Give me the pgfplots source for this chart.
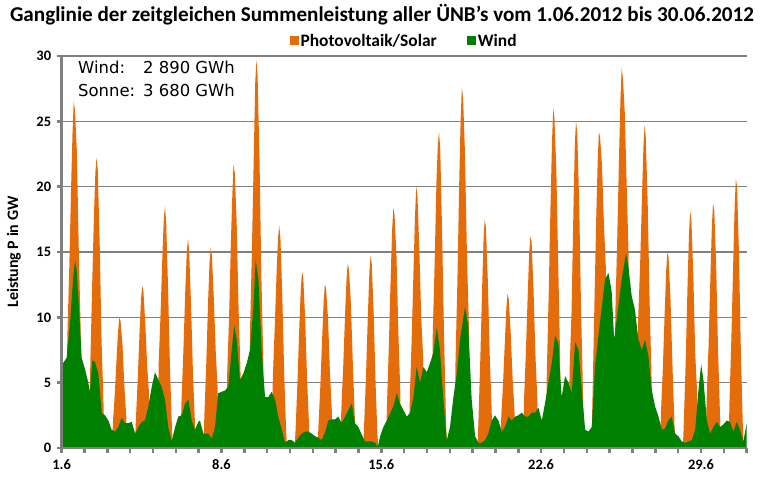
\documentclass[border=0pt]{standalone}
\usepackage{fontspec}
\setmainfont{Carlito}
\newfontfamily\dejavu{DejaVu Sans}
\usepackage{pgfplots}
\usepackage{pgfplotstable}
\pgfplotsset{compat=1.18}
\definecolor{pvorange}{RGB}{228,108,10}
\definecolor{windgreen}{RGB}{0,128,0}
\definecolor{axgray}{RGB}{128,128,128}

% Wind (GW), x = days since 1.06.2012 00:00
\pgfplotstableread[row sep=\\]{
d w\\
0.00 5.8\\ 0.07 6.5\\ 0.22 6.9\\ 0.37 9.6\\ 0.51 13.1\\ 0.59 14.3\\ 0.66 13.6\\ 0.76 10.8\\ 0.88 6.9\\
1.03 6.0\\ 1.17 5.0\\ 1.24 4.3\\ 1.35 6.7\\ 1.46 6.6\\ 1.61 5.7\\ 1.76 2.7\\ 1.90 2.5\\
2.05 2.1\\ 2.19 1.4\\ 2.34 1.25\\ 2.48 1.6\\ 2.63 2.3\\ 2.78 1.9\\ 2.92 1.9\\
3.07 2.0\\ 3.22 1.1\\ 3.36 1.6\\ 3.51 2.0\\ 3.65 2.1\\ 3.80 3.2\\ 3.95 4.7\\
4.09 5.8\\ 4.24 5.2\\ 4.38 4.7\\ 4.53 3.7\\ 4.67 1.6\\ 4.82 0.5\\ 4.97 1.6\\
5.11 2.4\\ 5.26 2.5\\ 5.41 3.4\\ 5.55 3.7\\ 5.70 2.1\\ 5.84 1.4\\ 5.99 2.0\\
6.06 2.1\\ 6.21 1.1\\ 6.43 1.1\\ 6.57 0.7\\ 6.72 1.6\\ 6.86 4.2\\
7.01 4.3\\ 7.16 4.4\\ 7.30 4.7\\ 7.45 7.5\\ 7.56 9.4\\ 7.67 8.3\\ 7.81 5.2\\ 7.96 5.7\\
8.11 6.5\\ 8.25 7.5\\ 8.40 10.8\\ 8.50 14.4\\ 8.62 12.9\\ 8.76 7.5\\ 8.91 3.9\\
9.05 3.9\\ 9.20 4.3\\ 9.35 3.7\\ 9.49 2.4\\ 9.64 1.4\\ 9.79 0.4\\ 9.93 0.6\\
10.08 0.6\\ 10.22 0.4\\ 10.37 0.8\\ 10.52 1.1\\ 10.66 1.25\\ 10.81 1.25\\ 10.95 1.1\\
11.10 0.9\\ 11.24 0.8\\ 11.39 0.6\\ 11.54 1.2\\ 11.68 2.1\\ 11.83 2.2\\ 11.98 2.2\\
12.12 2.4\\ 12.27 1.9\\ 12.41 2.4\\ 12.56 2.9\\ 12.71 3.4\\ 12.85 1.9\\
13.00 1.6\\ 13.15 1.0\\ 13.29 0.5\\ 13.43 0.5\\ 13.58 0.5\\ 13.73 0.4\\ 13.85 0.1\\ 13.95 0.9\\
14.09 1.6\\ 14.24 2.1\\ 14.38 2.6\\ 14.53 3.2\\ 14.68 4.2\\ 14.82 3.4\\ 14.97 2.9\\
15.12 2.4\\ 15.26 2.7\\ 15.41 3.9\\ 15.55 6.2\\ 15.70 5.0\\ 15.85 6.2\\ 15.99 5.8\\
16.14 6.5\\ 16.28 7.3\\ 16.43 9.2\\ 16.57 7.5\\ 16.72 3.7\\ 16.87 0.6\\
17.01 1.6\\ 17.16 3.9\\ 17.31 5.7\\ 17.45 8.3\\ 17.67 10.8\\ 17.81 9.3\\ 17.96 3.7\\
18.11 0.9\\ 18.25 0.4\\ 18.40 0.4\\ 18.55 0.6\\ 18.69 1.1\\ 18.84 2.1\\ 18.98 2.5\\
19.13 2.1\\ 19.28 1.25\\ 19.42 1.6\\ 19.57 2.4\\ 19.71 2.1\\ 19.86 2.4\\
20.00 2.5\\ 20.15 2.7\\ 20.30 2.4\\ 20.44 2.4\\ 20.59 2.7\\ 20.74 2.7\\ 20.88 3.1\\
21.03 2.1\\ 21.17 3.4\\ 21.32 5.0\\ 21.47 6.5\\ 21.61 8.6\\ 21.76 8.0\\ 21.83 5.7\\ 21.90 3.9\\
22.05 5.5\\ 22.20 5.0\\ 22.34 4.2\\ 22.49 8.1\\ 22.64 7.5\\ 22.78 4.4\\ 22.93 1.4\\
23.07 1.25\\ 23.22 1.6\\ 23.36 6.2\\ 23.51 8.6\\ 23.66 10.8\\ 23.80 12.9\\ 23.95 13.4\\
24.09 12.0\\ 24.20 8.3\\ 24.38 10.8\\ 24.53 12.9\\ 24.72 14.9\\ 24.82 13.9\\ 24.97 11.6\\
25.11 10.6\\ 25.26 8.3\\ 25.41 7.5\\ 25.55 8.3\\ 25.70 7.0\\ 25.85 4.4\\ 25.99 3.2\\
26.14 2.4\\ 26.29 1.4\\ 26.43 1.5\\ 26.57 2.1\\ 26.72 2.4\\ 26.87 1.1\\
27.01 0.9\\ 27.16 0.5\\ 27.31 0.4\\ 27.45 0.5\\ 27.60 0.6\\ 27.75 1.4\\ 27.89 4.4\\
28.01 6.4\\ 28.11 5.2\\ 28.26 2.1\\ 28.40 1.1\\ 28.55 1.6\\ 28.69 2.0\\ 28.84 1.6\\ 28.98 1.8\\
29.13 2.1\\ 29.27 2.0\\ 29.42 1.25\\ 29.57 2.0\\ 29.71 1.4\\ 29.86 0.5\\ 30.00 1.9\\
}\windtab

% Summenleistung Wind + Photovoltaik (GW) during each day's solar hours
\pgfplotstableread[row sep=\\]{
d t\\
0.208 0\\ 0.25 8.45\\ 0.333 13.6\\ 0.417 20.0\\ 0.479 24.2\\ 0.531 26.5\\ 0.583 25.9\\ 0.667 22.8\\ 0.75 15.4\\ 0.833 9.2\\ 0.875 0\\
1.208 0\\ 1.25 5.8\\ 1.333 12.1\\ 1.417 17.8\\ 1.479 21.1\\ 1.531 22.2\\ 1.583 21.3\\ 1.667 15.8\\ 1.75 8.2\\ 1.833 3.6\\ 1.875 0\\
2.208 0\\ 2.25 2.0\\ 2.333 4.2\\ 2.417 7.2\\ 2.479 9.0\\ 2.531 10.0\\ 2.583 9.7\\ 2.667 7.9\\ 2.75 4.7\\ 2.833 2.4\\ 2.875 0\\
3.208 0\\ 3.25 2.0\\ 3.333 5.2\\ 3.417 9.0\\ 3.479 11.4\\ 3.531 12.4\\ 3.583 12.0\\ 3.667 9.5\\ 3.75 6.2\\ 3.833 4.1\\ 3.875 0\\
4.208 0\\ 4.25 6.4\\ 4.333 10.2\\ 4.417 14.9\\ 4.479 17.6\\ 4.531 18.5\\ 4.583 17.1\\ 4.667 12.0\\ 4.75 5.9\\ 4.833 1.5\\ 4.875 0\\
5.208 0\\ 5.25 3.5\\ 5.333 7.4\\ 5.417 12.05\\ 5.479 14.8\\ 5.531 16.0\\ 5.583 15.2\\ 5.667 11.1\\ 5.75 5.9\\ 5.833 2.2\\ 5.875 0\\
6.208 0\\ 6.25 2.3\\ 6.333 6.3\\ 6.417 11.25\\ 6.479 14.2\\ 6.531 15.3\\ 6.583 14.7\\ 6.667 11.45\\ 6.75 7.4\\ 6.833 4.6\\ 6.875 0\\
7.208 0\\ 7.25 5.6\\ 7.333 9.9\\ 7.417 15.9\\ 7.479 19.45\\ 7.531 21.7\\ 7.583 21.1\\ 7.667 17.3\\ 7.75 10.7\\ 7.833 6.1\\ 7.875 0\\
8.208 0\\ 8.25 8.8\\ 8.333 14.95\\ 8.417 22.4\\ 8.479 27.9\\ 8.531 29.7\\ 8.583 28.5\\ 8.667 22.2\\ 8.75 13.1\\ 8.833 6.7\\ 8.875 0\\
9.208 0\\ 9.25 5.3\\ 9.333 9.2\\ 9.417 13.5\\ 9.479 16.1\\ 9.531 17.0\\ 9.583 16.1\\ 9.667 11.6\\ 9.75 5.6\\ 9.833 1.3\\ 9.875 0\\
10.208 0\\ 10.25 1.5\\ 10.333 5.2\\ 10.417 9.6\\ 10.479 12.3\\ 10.531 13.5\\ 10.583 13.05\\ 10.667 9.9\\ 10.75 5.3\\ 10.833 1.9\\ 10.875 0\\
11.208 0\\ 11.25 1.7\\ 11.333 4.8\\ 11.417 8.65\\ 11.479 11.3\\ 11.531 12.5\\ 11.583 12.2\\ 11.667 9.95\\ 11.75 5.9\\ 11.833 2.9\\ 11.875 0\\
12.208 0\\ 12.25 2.9\\ 12.333 6.2\\ 12.417 10.3\\ 12.479 12.9\\ 12.531 14.1\\ 12.583 13.7\\ 12.667 11.2\\ 12.75 6.7\\ 12.833 2.8\\ 12.875 0\\
13.208 0\\ 13.25 1.8\\ 13.333 5.6\\ 13.417 10.4\\ 13.479 13.4\\ 13.531 14.7\\ 13.583 14.1\\ 13.667 10.4\\ 13.75 5.0\\ 13.833 1.0\\ 13.875 0\\
14.208 0\\ 14.25 3.3\\ 14.333 7.9\\ 14.417 13.4\\ 14.479 16.8\\ 14.531 18.4\\ 14.583 17.8\\ 14.667 14.7\\ 14.75 8.8\\ 14.833 4.3\\ 14.875 0\\
15.208 0\\ 15.25 3.8\\ 15.333 8.4\\ 15.417 13.9\\ 15.479 17.8\\ 15.531 20.0\\ 15.583 19.4\\ 15.667 15.2\\ 15.75 10.05\\ 15.833 6.95\\ 15.875 0\\
16.208 0\\ 16.25 8.4\\ 16.333 13.8\\ 16.417 20.4\\ 16.479 23.3\\ 16.531 24.2\\ 16.583 22.85\\ 16.667 16.3\\ 16.75 8.55\\ 16.833 2.3\\ 16.875 0\\
17.208 0\\ 17.25 6.5\\ 17.333 12.7\\ 17.417 20.6\\ 17.479 25.3\\ 17.531 27.6\\ 17.583 26.8\\ 17.667 22.5\\ 17.75 15.0\\ 17.833 9.6\\ 17.875 0\\
18.208 0\\ 18.25 1.75\\ 18.333 6.5\\ 18.417 12.2\\ 18.479 15.9\\ 18.531 17.5\\ 18.583 16.9\\ 18.667 12.8\\ 18.75 7.1\\ 18.833 3.0\\ 18.875 0\\
19.208 0\\ 19.25 2.2\\ 19.333 4.9\\ 19.417 8.3\\ 19.479 10.7\\ 19.531 11.8\\ 19.583 11.4\\ 19.667 8.9\\ 19.75 5.4\\ 19.833 2.9\\ 19.875 0\\
20.208 0\\ 20.25 3.6\\ 20.333 7.3\\ 20.417 11.9\\ 20.479 14.9\\ 20.531 16.2\\ 20.583 15.8\\ 20.667 12.2\\ 20.75 7.2\\ 20.833 3.8\\ 20.875 0\\
21.208 0\\ 21.25 5.8\\ 21.333 11.8\\ 21.417 19.0\\ 21.479 23.5\\ 21.531 26.0\\ 21.583 25.3\\ 21.667 21.3\\ 21.75 14.1\\ 21.833 6.8\\ 21.875 0\\
22.208 0\\ 22.25 6.1\\ 22.333 10.4\\ 22.417 18.3\\ 22.479 23.4\\ 22.531 25.0\\ 22.583 24.1\\ 22.667 18.9\\ 22.75 10.6\\ 22.833 4.4\\ 22.875 0\\
23.208 0\\ 23.25 3.8\\ 23.333 10.8\\ 23.417 17.8\\ 23.479 22.0\\ 23.531 24.2\\ 23.583 23.8\\ 23.667 21.6\\ 23.75 17.25\\ 23.833 13.9\\ 23.875 0\\
24.208 0\\ 24.25 10.3\\ 24.333 15.9\\ 24.417 22.6\\ 24.479 26.9\\ 24.531 29.1\\ 24.583 28.3\\ 24.667 25.6\\ 24.75 19.95\\ 24.833 14.7\\ 24.875 0\\
25.208 0\\ 25.25 9.8\\ 25.333 13.8\\ 25.417 19.1\\ 25.479 22.9\\ 25.531 24.7\\ 25.583 23.8\\ 25.667 18.85\\ 25.75 11.35\\ 25.833 5.7\\ 25.875 0\\
26.208 0\\ 26.25 2.7\\ 26.333 6.15\\ 26.417 10.6\\ 26.479 13.6\\ 26.531 15.0\\ 26.583 14.6\\ 26.667 11.4\\ 26.75 6.5\\ 26.833 2.2\\ 26.875 0\\
27.208 0\\ 27.25 1.85\\ 27.333 6.7\\ 27.417 12.7\\ 27.479 16.5\\ 27.531 18.1\\ 27.583 17.45\\ 27.667 13.2\\ 27.75 7.2\\ 27.833 4.25\\ 27.875 0\\
28.208 0\\ 28.25 3.7\\ 28.333 7.8\\ 28.417 13.2\\ 28.479 17.0\\ 28.531 18.7\\ 28.583 18.2\\ 28.667 13.95\\ 28.75 7.5\\ 28.833 2.6\\ 28.875 0\\
29.208 0\\ 29.25 3.5\\ 29.333 8.4\\ 29.417 14.4\\ 29.479 18.7\\ 29.531 20.6\\ 29.583 20.0\\ 29.667 14.8\\ 29.75 7.3\\ 29.833 1.8\\ 29.875 0\\
}\soltab

\begin{document}
\begin{tikzpicture}
\path[use as bounding box] (0,0) rectangle (760bp,484bp);
\begin{axis}[
  at={(61.6bp,36bp)}, anchor=south west,
  scale only axis, width=685bp, height=392bp,
  xmin=0, xmax=30, ymin=0, ymax=30,
  axis x line*=bottom, axis y line*=left,
  axis line style={axgray, line width=2.5bp},
  xtick={0,7,14,21,28}, xticklabels={1.6,8.6,15.6,22.6,29.6},
  minor xtick={1,...,30},
  ytick={0,5,...,30}, yticklabels={0,5,10,15,20,25,30},
  tick align=outside,
  major tick length=5bp, minor tick length=5bp,
  every tick/.style={axgray, line width=2.5bp},
  every minor tick/.style={axgray, line width=2.5bp},
  ymajorgrids, grid style={axgray, line width=1.2bp},
  ticklabel style={font=\bfseries\fontsize{14.5}{16}\selectfont},
  xticklabel style={yshift=-3bp},
  yticklabel style={xshift=-2bp},
  legend style={at={(0.5,1)}, anchor=south, yshift=6bp, draw=none, fill=none,
    legend columns=2, font=\bfseries\fontsize{17.5}{20}\selectfont,
    /tikz/every even column/.append style={column sep=28bp},
    nodes={inner xsep=2bp, inner ysep=0pt}},
  legend image code/.code={\fill[#1] (0bp,-4.5bp) rectangle (9bp,4.5bp);},
]
\addplot[fill=pvorange, draw=none] table[x=d, y=t] {\soltab} \closedcycle;
\addlegendentry{Photovoltaik/Solar}
\addplot[fill=windgreen, draw=none] table[x=d, y=w] {\windtab} \closedcycle;
\addlegendentry{Wind}
\draw[axgray, line width=2.5bp] (rel axis cs:0,0) -- (rel axis cs:1,0);
\draw[axgray, line width=2.5bp] (rel axis cs:0,0) -- (rel axis cs:0,1);
\end{axis}
\node[font=\bfseries\fontsize{21.2}{24}\selectfont] at (382bp,469bp)
  {Ganglinie der zeitgleichen Summenleistung aller ÜNB's vom 1.06.2012 bis 30.06.2012};
\node[rotate=90, font=\bfseries\fontsize{16}{18}\selectfont] at (14bp,232bp) {Leistung P in GW};
\node[anchor=north west, inner sep=0pt, font=\dejavu\fontsize{16.5}{23}\selectfont] at (78bp,427bp)
  {\begin{tabular}{@{}l@{\hspace{8bp}}l@{}}Wind: & 2 890 GWh\\ Sonne: & 3 680 GWh\end{tabular}};
\end{tikzpicture}
\end{document}
